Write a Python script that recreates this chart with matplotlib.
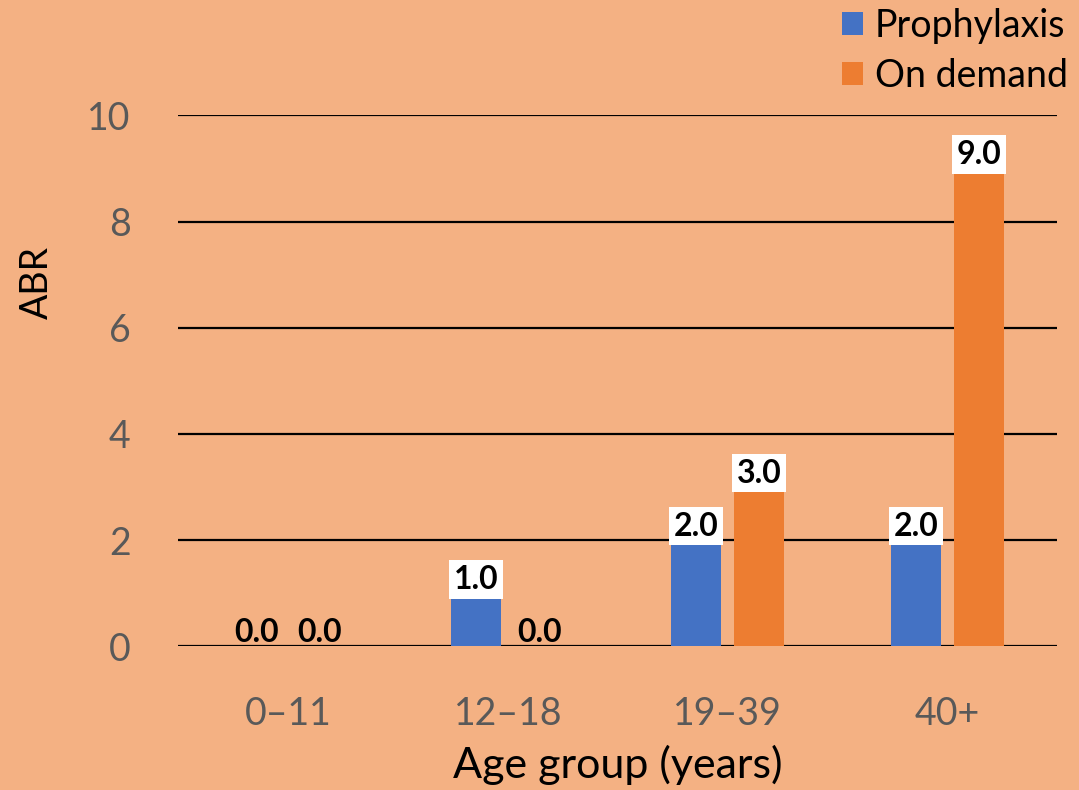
import matplotlib.pyplot as plt
import numpy as np

plt.rcParams["font.family"] = ["Lato", "DejaVu Sans"]

age_groups = ["0\u201311", "12\u201318", "19\u201339", "40+"]
prophylaxis = [0.0, 1.0, 2.0, 2.0]
on_demand = [0.0, 0.0, 3.0, 9.0]

bg = "#F4B183"
blue = "#4472C4"
orange = "#ED7D31"
grey = "#595959"

fig = plt.figure(figsize=(10.79, 7.9), dpi=100, facecolor=bg)
ax = fig.add_axes([0.165, 0.182, 0.815, 0.672])
ax.set_facecolor(bg)

x = np.arange(len(age_groups))
w = 0.227
off = 0.143
b1 = ax.bar(x - off, prophylaxis, w, color=blue, label="Prophylaxis", zorder=3)
b2 = ax.bar(x + off, on_demand, w, color=orange, label="On demand", zorder=3)

# value labels: white box for non-zero values, plain text for zeros
for bars, vals in ((b1, prophylaxis), (b2, on_demand)):
    for rect, v in zip(bars, vals):
        box = dict(boxstyle="square,pad=0.15", fc="white", ec="none") if v > 0 else None
        ax.annotate(f"{v:.1f}", (rect.get_x() + rect.get_width() / 2, v),
                    xytext=(0, 10), textcoords="offset points",
                    ha="center", va="center", fontsize=23, fontweight="bold",
                    color="black", bbox=box, zorder=5)

ax.set_xlim(-0.5, 3.5)
ax.set_ylim(0, 10)
ax.set_yticks([0, 2, 4, 6, 8, 10])
ax.set_xticks(x)
ax.set_xticklabels(age_groups)
ax.tick_params(axis="both", length=0, labelsize=27, colors=grey)
ax.tick_params(axis="x", pad=36)
ax.tick_params(axis="y", pad=34)
ax.yaxis.grid(True, color="black", linewidth=1.6, zorder=0)
ax.set_axisbelow(True)
for s in ax.spines.values():
    s.set_visible(False)

ax.set_xlabel("Age group (years)", fontsize=31, color="black", labelpad=9)
ax.set_ylabel("ABR", fontsize=27, color="black")
ax.yaxis.set_label_coords(-0.14, 0.685)

fig.legend(handles=[b1, b2], loc="upper left",
           bbox_to_anchor=(0.780, 0.990), frameon=False,
           fontsize=27, handlelength=0.56, handleheight=0.56, handletextpad=0.32,
           labelspacing=0.38, borderaxespad=0, borderpad=0)

fig.savefig("out.png", dpi=100, facecolor=bg)
